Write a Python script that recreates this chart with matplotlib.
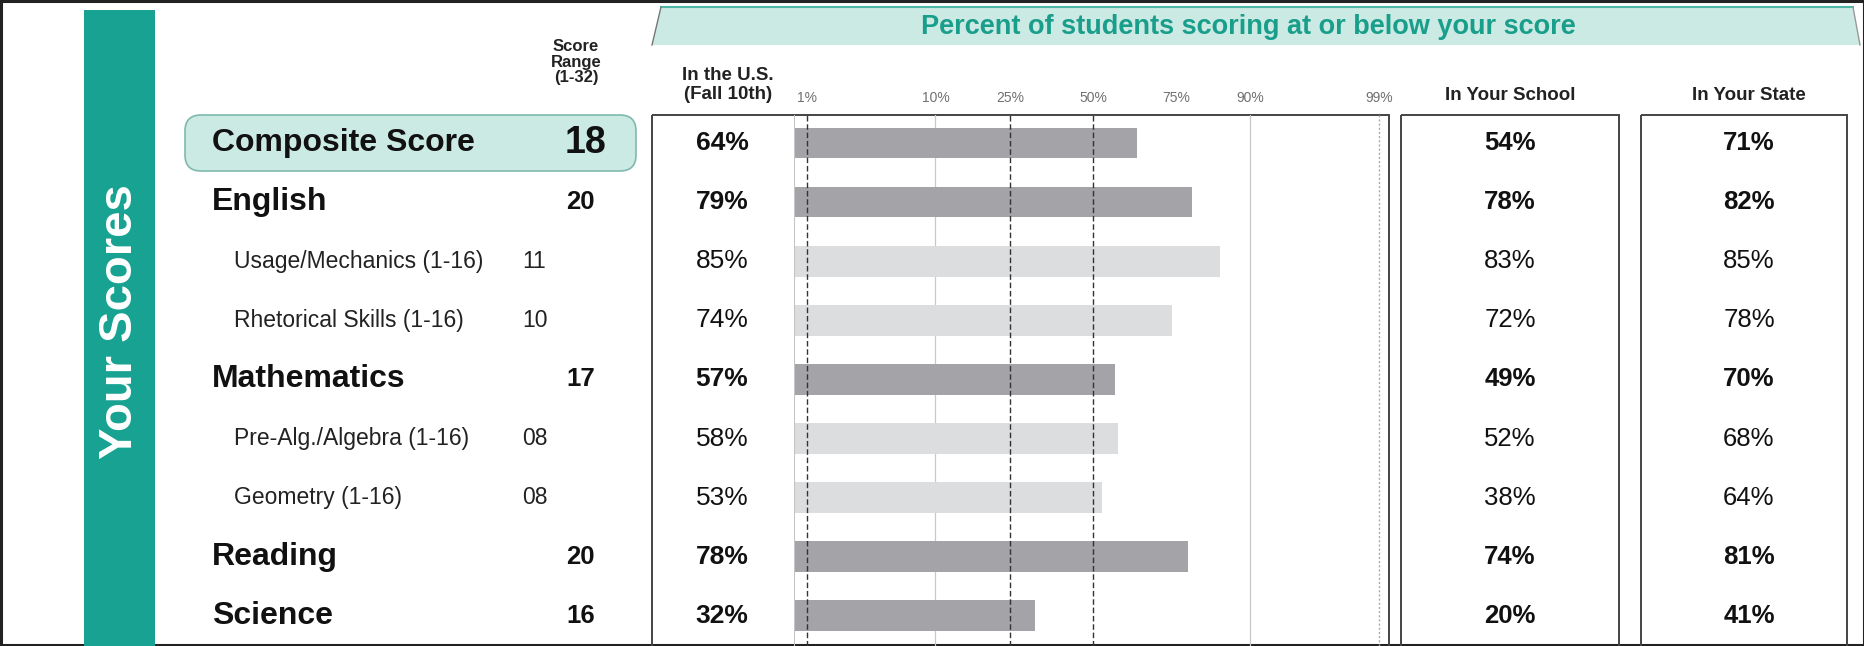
import numpy as np
import matplotlib
matplotlib.use("Agg")
import matplotlib.pyplot as plt
from matplotlib.patches import FancyBboxPatch, Polygon, Rectangle
from matplotlib.transforms import blended_transform_factory
from statistics import NormalDist

plt.rcParams['font.family'] = ['Liberation Sans', 'DejaVu Sans']

# data
subjects = ["Composite Score", "English", "Usage/Mechanics (1-16)", "Rhetorical Skills (1-16)",
            "Mathematics", "Pre-Alg./Algebra (1-16)", "Geometry (1-16)", "Reading", "Science"]
is_main = [True, True, False, False, True, False, False, True, True]
scores = ["18", "20", "11", "10", "17", "08", "08", "20", "16"]
pct_us = [64, 79, 85, 74, 57, 58, 53, 78, 32]
pct_school = [54, 78, 83, 72, 49, 52, 38, 74, 20]
pct_state = [71, 82, 85, 78, 70, 68, 64, 81, 41]
tick_pcts = [1, 10, 25, 50, 75, 90, 99]
dashed_pcts = [1, 25, 50]
solid_pcts = [10, 90]
dotted_pcts = [99]

TEAL = "#17a292"
LIGHT_TEAL = "#cbeae3"
DARK_BAR = "#a4a4a8"
LIGHT_BAR = "#dcdddf"
BOX = "#444444"

_nd = NormalDist()


def to_z(p):
    p = np.clip(np.asarray(p, dtype=float), 1e-6, 100 - 1e-6)
    return np.vectorize(lambda v: _nd.inv_cdf(v / 100.0), otypes=[float])(p)


def from_z(z):
    return np.vectorize(lambda v: _nd.cdf(v) * 100.0, otypes=[float])(np.asarray(z, dtype=float))


W, H = 1865, 646
fig = plt.figure(figsize=(W / 100, H / 100), dpi=100)

# background axes in pixel units for the table furniture
bg = fig.add_axes([0, 0, 1, 1])
bg.set_xlim(0, W)
bg.set_ylim(H, 0)
bg.axis("off")

# bar axes on a normal probability (percentile) scale
bar_l, bar_r, bar_t = 794, 1389, 115
row_h = 59.1
ax = fig.add_axes([bar_l / W, 0, (bar_r - bar_l) / W, (H - bar_t) / H])
ax.patch.set_alpha(0)
top_rows = -(143 - bar_t) / row_h
ax.set_ylim(top_rows + (H - bar_t) / row_h, top_rows)
ax.set_xscale("function", functions=(to_z, from_z))
lo, hi = 0.75, 99.2
ax.set_xlim(lo, hi)

rows = np.arange(len(subjects))
colors = [DARK_BAR if m else LIGHT_BAR for m in is_main]
ax.barh(rows, [v - lo for v in pct_us], left=lo, height=0.52, color=colors, zorder=2)

ax.axvline(lo, color="#c4c4c4", lw=1.5, zorder=3)
for p in dashed_pcts:
    ax.axvline(p, color="#333333", lw=1.0, ls=(0, (4, 2)), zorder=3)
for p in solid_pcts:
    ax.axvline(p, color="#c8c8c8", lw=0.9, zorder=1)
for p in dotted_pcts:
    ax.axvline(p, color="#aaaaaa", lw=1.0, ls=(0, (1.5, 1.5)), zorder=1)

ax.set_xticks(tick_pcts, labels=[f"{p}%" for p in tick_pcts])
ax.xaxis.tick_top()
ax.tick_params(axis="x", length=0, pad=7, labelsize=10, labelcolor="#707070")
ax.set_yticks([])
for s in ax.spines.values():
    s.set_visible(False)

# text rows share the bar axes' row positions
tr = blended_transform_factory(bg.transData, ax.transData)

# outer frame
bg.add_patch(Rectangle((1, 1), W - 2.5, H - 2.5, fill=False, ec="#222222", lw=2.2))

# teal side band
bg.add_patch(Rectangle((84, 10), 71, H, fc=TEAL, ec="none"))
bg.text(120, 322, "Your Scores", rotation=90, color="white", fontsize=34, fontweight="bold",
        ha="center", va="center")

# header banner
bg.add_patch(Polygon([(661, 7), (1853, 7), (1860, 45), (652, 45)], closed=True,
                     fc=LIGHT_TEAL, ec="none"))
bg.plot([661, 1853], [7, 7], color="#4fb5a5", lw=1.5)
bg.plot([661, 652], [7, 45], color="#777777", lw=1.0)
bg.plot([1853, 1860], [7, 45], color="#999999", lw=1.0)
bg.text(1248, 27, "Percent of students scoring at or below your score", color="#1a9e8c",
        fontsize=19.5, fontweight="bold", ha="center", va="center")

# column headers
bg.text(576, 62, "Score\nRange\n(1-32)", fontsize=12, fontweight="bold", ha="center",
        va="center", linespacing=1.05, color="#222222")
bg.text(728, 85, "In the U.S.\n(Fall 10th)", fontsize=13.5, fontweight="bold", ha="center",
        va="center", linespacing=1.1, color="#222222")
bg.text(1510, 96, "In Your School", fontsize=13.5, fontweight="bold", ha="center",
        va="center", color="#222222")
bg.text(1749, 96, "In Your State", fontsize=13.5, fontweight="bold", ha="center",
        va="center", color="#222222")

# boxes
bg.add_patch(FancyBboxPatch((185, 115), 451, 56, boxstyle="round,pad=0,rounding_size=16",
                            fc=LIGHT_TEAL, ec="#7fb9ae", lw=1.2))
bg.add_patch(Rectangle((652, bar_t), bar_r - 652, H, fill=False, ec=BOX, lw=1.4))
bg.add_patch(Rectangle((1401, bar_t), 1619 - 1401, H, fill=False, ec=BOX, lw=1.4))
bg.add_patch(Rectangle((1641, bar_t), 1847 - 1641, H, fill=False, ec=BOX, lw=1.4))

for i, name in enumerate(subjects):
    main = is_main[i]
    wt = "bold" if main else "normal"
    if main:
        bg.text(212, i, name, transform=tr, fontsize=23, fontweight="bold", ha="left",
                va="center", color="#111111")
        size = 27 if i == 0 else 18.5
        bg.text(606 if i == 0 else 595, i, scores[i], transform=tr, fontsize=size,
                fontweight="bold", ha="right", va="center", color="#111111")
    else:
        bg.text(234, i, name, transform=tr, fontsize=16.5, ha="left", va="center",
                color="#222222")
        bg.text(522, i, scores[i], transform=tr, fontsize=16.5, ha="left", va="center",
                color="#222222")
    bg.text(722, i, f"{pct_us[i]}%", transform=tr, fontsize=19, fontweight=wt,
            ha="center", va="center", color="#111111")
    bg.text(1510, i, f"{pct_school[i]}%", transform=tr, fontsize=18.5, fontweight=wt,
            ha="center", va="center", color="#111111")
    bg.text(1749, i, f"{pct_state[i]}%", transform=tr, fontsize=18.5, fontweight=wt,
            ha="center", va="center", color="#111111")

fig.savefig("out.png", dpi=100)
